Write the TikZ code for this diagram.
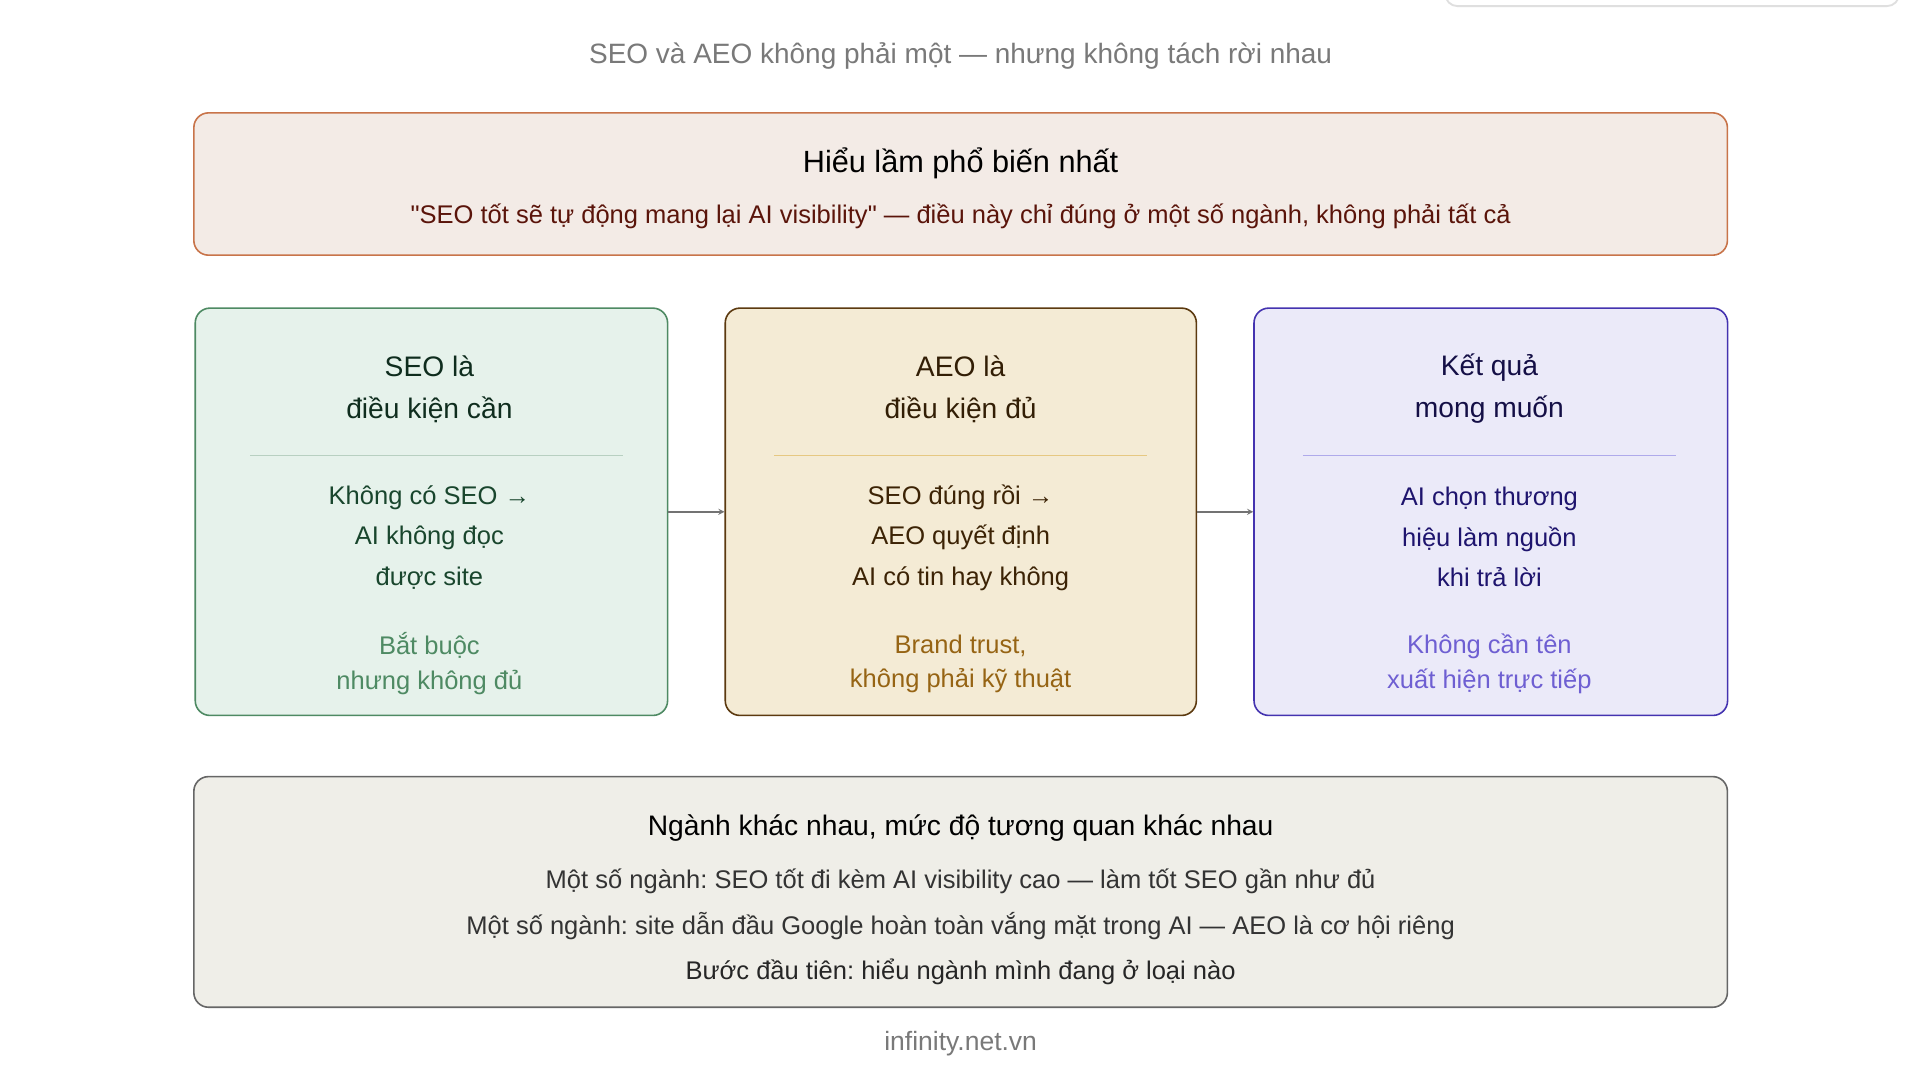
\documentclass[tikz,border=0pt]{standalone}
\usepackage{fontspec}
\setmainfont{Liberation Sans}[Ligatures=TeXOff]
\frenchspacing
\begin{document}
\begin{tikzpicture}[x=1pt,y=-1pt,
 box/.style={draw,rounded corners=12pt,line width=1.3pt},
 t/.style={font=\fontsize{20.8}{24}\selectfont,align=center},
 h/.style={font=\fontsize{23}{27}\selectfont,align=center},
 hh/.style={font=\fontsize{25}{29}\selectfont,align=center},
 arr/.style={draw=gray!90!black,line width=1.2pt,->,>=stealth}]
\definecolor{gT}{HTML}{E6F2EB}\definecolor{gB}{HTML}{4E8A63}
\definecolor{yT}{HTML}{F4EBD5}\definecolor{yB}{HTML}{5C3A10}
\definecolor{pT}{HTML}{EBEAF9}\definecolor{pB}{HTML}{4433B0}
\definecolor{oT}{HTML}{F3EBE6}\definecolor{oB}{HTML}{C8744A}
\definecolor{oS}{HTML}{5A140A}
\definecolor{gH}{HTML}{0F2D1E}\definecolor{gC}{HTML}{19462D}
\definecolor{yH}{HTML}{321E05}\definecolor{yC}{HTML}{3C2305}\definecolor{yF}{HTML}{966414}\definecolor{yL}{HTML}{E6C882}
\definecolor{pH}{HTML}{140F46}\definecolor{pC}{HTML}{1E146E}\definecolor{pF}{HTML}{6E5FD2}\definecolor{pL}{HTML}{AFAAEB}
\definecolor{bT}{HTML}{EFEEE8}
\useasboundingbox[fill=white] (0,0) rectangle (1565,882);
\draw[rounded corners=10pt,draw=gray!25,line width=1.5pt] (1178,-20) rectangle (1548,5);
\node[font=\fontsize{22.8}{27}\selectfont,text=gray!95!black] (title) at (783,46) {SEO và AEO không phải một — nhưng không tách rời nhau};
\draw[box,draw=oB,fill=oT] (158,92) rectangle (1408,208);
\node[hh] (mh) at (783,133) {Hiểu lầm phổ biến nhất};
\node[t,text=oS] (ms) at (783,176) {"SEO tốt sẽ tự động mang lại AI visibility" — điều này chỉ đúng ở một số ngành, không phải tất cả};
% three boxes
\node[box,draw=gB,fill=gT,minimum width=385pt,minimum height=332pt,anchor=north west] (b1) at (158.5,250.5) {};
\node[box,draw=yB,fill=yT,minimum width=384pt,minimum height=332pt,anchor=north west] (b2) at (590.5,250.5) {};
\node[box,draw=pB,fill=pT,minimum width=386pt,minimum height=332pt,anchor=north west] (b3) at (1021.5,250.5) {};
\draw[arr] (b1.east) -- (b2.west);
\draw[arr] (b2.east) -- (b3.west);
% box1
\node[h,text=gH] (h1) at (350,317) {SEO là\\[7pt]điều kiện cần};
\draw[gB!40,line width=1pt] (204,371) -- (508,371);
\node[t,text=gC] (c1) at (350,438) {Không có SEO →\\[9pt]AI không đọc\\[9pt]được site};
\node[t,text=gB] (f1) at (350,541) {Bắt buộc\\[4pt]nhưng không đủ};
% box2
\node[h,text=yH] (h2) at (783,317) {AEO là\\[7pt]điều kiện đủ};
\draw[yL,line width=1pt] (631,371) -- (935,371);
\node[t,text=yC] (c2) at (783,438) {SEO đúng rồi →\\[9pt]AEO quyết định\\[9pt]AI có tin hay không};
\node[t,text=yF] (f2) at (783,541) {Brand trust,\\[4pt]không phải kỹ thuật};
% box3
\node[h,text=pH] (h3) at (1214,317) {Kết quả\\[7pt]mong muốn};
\draw[pL,line width=1pt] (1062,371) -- (1366,371);
\node[t,text=pC] (c3) at (1214,438) {AI chọn thương\\[9pt]hiệu làm nguồn\\[9pt]khi trả lời};
\node[t,text=pF] (f3) at (1214,541) {Không cần tên\\[4pt]xuất hiện trực tiếp};
% bottom
\draw[box,draw=gray!80!black,fill=bT] (158,633) rectangle (1408,821);
\node[hh,font=\fontsize{23}{27}\selectfont] (bh) at (783,675) {Ngành khác nhau, mức độ tương quan khác nhau};
\node[t,text=gray!40!black] (b1l) at (783,718) {Một số ngành: SEO tốt đi kèm AI visibility cao — làm tốt SEO gần như đủ};
\node[t,text=gray!40!black] (b2l) at (783,755) {Một số ngành: site dẫn đầu Google hoàn toàn vắng mặt trong AI — AEO là cơ hội riêng};
\node[t,text=black!85] (b3l) at (783,792) {Bước đầu tiên: hiểu ngành mình đang ở loại nào};
\node[t,font=\fontsize{21.6}{25}\selectfont,text=gray!95!black] (foot) at (783,851) {infinity.net.vn};
\end{tikzpicture}
\end{document}
